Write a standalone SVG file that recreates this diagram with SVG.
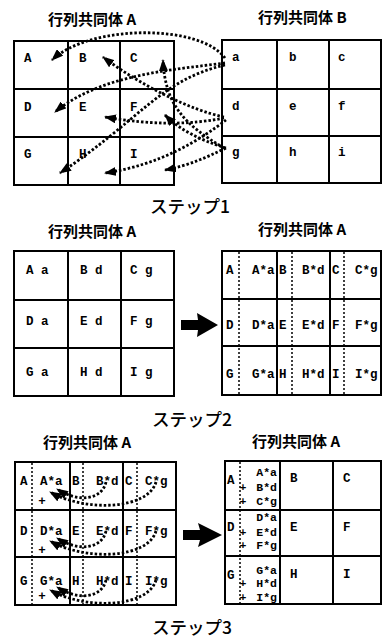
<svg xmlns="http://www.w3.org/2000/svg" width="382" height="638" viewBox="0 0 382 638">
<style>
.bg{fill:#fff}
.grid{fill:none;stroke:#000;stroke-width:2}
.ln{stroke:#000;stroke-width:2}
.dv{stroke:#000;stroke-width:1.5;stroke-dasharray:2 2}
.cv{fill:none;stroke:#000;stroke-width:2.8;stroke-dasharray:2.5 2}
.lb{font-family:"Liberation Mono","DejaVu Sans Mono",monospace;font-weight:bold;font-size:12.5px;fill:#000}
.sm{font-family:"Liberation Mono","DejaVu Sans Mono",monospace;font-weight:bold;font-size:11.5px;fill:#000}
.tt{font-family:"Noto Sans CJK JP","Noto Sans CJK SC",sans-serif;font-weight:bold;font-size:15px;fill:#000}
.st{font-family:"Noto Sans CJK JP","Noto Sans CJK SC",sans-serif;font-weight:500;font-size:17.5px;fill:#000}
.big{fill:#000}
</style>
<defs>
<marker id="ah" markerUnits="userSpaceOnUse" viewBox="0 0 12 9" refX="11" refY="4.5" markerWidth="12" markerHeight="9" orient="auto">
<path d="M0,0 L12,4.5 L0,9 z" fill="#000"/>
</marker>
</defs>
<rect class="bg" x="0" y="0" width="382" height="638"/>

<!-- Step 1 -->
<g id="title1A"><text class="tt" x="48" y="25">行列共同体 A</text></g>
<g id="title1B"><text class="tt" x="258" y="23">行列共同体 B</text></g>
<g id="gridA1">
<rect class="grid" x="14" y="41" width="160" height="144"/>
<line class="ln" x1="68" y1="41" x2="68" y2="185"/>
<line class="ln" x1="120" y1="41" x2="120" y2="185"/>
<line class="ln" x1="14" y1="89" x2="174" y2="89"/>
<line class="ln" x1="14" y1="137" x2="174" y2="137"/>
<text class="lb" x="24" y="62">A</text><text class="lb" x="79" y="62">B</text><text class="lb" x="130" y="62">C</text>
<text class="lb" x="24" y="111">D</text><text class="lb" x="79" y="111">E</text><text class="lb" x="130" y="111">F</text>
<text class="lb" x="24" y="158">G</text><text class="lb" x="79" y="158">H</text><text class="lb" x="130" y="158">I</text>
</g>
<g id="gridB1">
<rect class="grid" x="222" y="40" width="159" height="143"/>
<line class="ln" x1="277" y1="40" x2="277" y2="183"/>
<line class="ln" x1="329" y1="40" x2="329" y2="183"/>
<line class="ln" x1="222" y1="89" x2="381" y2="89"/>
<line class="ln" x1="222" y1="136" x2="381" y2="136"/>
<text class="lb" x="232" y="61">a</text><text class="lb" x="289" y="61">b</text><text class="lb" x="338" y="61">c</text>
<text class="lb" x="232" y="110">d</text><text class="lb" x="289" y="110">e</text><text class="lb" x="338" y="110">f</text>
<text class="lb" x="232" y="156">g</text><text class="lb" x="289" y="156">h</text><text class="lb" x="338" y="156">i</text>
</g>
<g id="connectors1">
<path class="cv" marker-end="url(#ah)" d="M225,58 C200,24 90,24 52,60"/>
<path class="cv" marker-end="url(#ah)" d="M225,63 C170,70 100,75 55,112"/>
<path class="cv" marker-end="url(#ah)" d="M225,65 C160,80 140,120 60,173"/>
<path class="cv" marker-end="url(#ah)" d="M224,117 C190,110 140,85 103,57"/>
<path class="cv" marker-end="url(#ah)" d="M224,118 C190,125 150,125 105,117"/>
<path class="cv" marker-end="url(#ah)" d="M226,120 C200,140 160,165 105,173"/>
<path class="cv" marker-end="url(#ah)" d="M224,148 C185,125 165,105 163,60"/>
<path class="cv" marker-end="url(#ah)" d="M226,148 C200,140 180,130 165,115"/>
<path class="cv" marker-end="url(#ah)" d="M226,148 C205,158 190,165 165,170"/>
</g>
<g id="step1"><text class="st" x="150" y="213">ステップ1</text></g>

<!-- Step 2 -->
<g id="title2A"><text class="tt" x="48" y="237">行列共同体 A</text></g>
<g id="title2R"><text class="tt" x="258" y="235">行列共同体 A</text></g>
<g id="gridA2">
<rect class="grid" x="14" y="251" width="160" height="145"/>
<line class="ln" x1="68" y1="251" x2="68" y2="396"/>
<line class="ln" x1="121" y1="251" x2="121" y2="396"/>
<line class="ln" x1="14" y1="300" x2="174" y2="300"/>
<line class="ln" x1="14" y1="348" x2="174" y2="348"/>
<text class="lb" x="26" y="274" xml:space="preserve">A a</text><text class="lb" x="80" y="274" xml:space="preserve">B d</text><text class="lb" x="130" y="274" xml:space="preserve">C g</text>
<text class="lb" x="26" y="325" xml:space="preserve">D a</text><text class="lb" x="80" y="325" xml:space="preserve">E d</text><text class="lb" x="130" y="325" xml:space="preserve">F g</text>
<text class="lb" x="26" y="376" xml:space="preserve">G a</text><text class="lb" x="80" y="376" xml:space="preserve">H d</text><text class="lb" x="130" y="376" xml:space="preserve">I g</text>
</g>
<g id="arrow2"><path class="big" d="M181,320 L198,320 L197,313 L218,325 L197,337 L198,330 L181,330 z"/></g>
<g id="gridR2">
<rect class="grid" x="222" y="251" width="159" height="144"/>
<line class="ln" x1="277" y1="251" x2="277" y2="395"/>
<line class="ln" x1="330" y1="251" x2="330" y2="395"/>
<line class="ln" x1="222" y1="299" x2="381" y2="299"/>
<line class="ln" x1="222" y1="346" x2="381" y2="346"/>
<line class="dv" x1="239" y1="252" x2="239" y2="394"/>
<line class="dv" x1="292" y1="252" x2="292" y2="394"/>
<line class="dv" x1="344" y1="252" x2="344" y2="394"/>
<text class="lb" x="226" y="274">A</text><text class="lb" x="252" y="274">A*a</text>
<text class="lb" x="279" y="274">B</text><text class="lb" x="302" y="274">B*d</text>
<text class="lb" x="332" y="274">C</text><text class="lb" x="355" y="274">C*g</text>
<text class="lb" x="226" y="329">D</text><text class="lb" x="252" y="329">D*a</text>
<text class="lb" x="279" y="329">E</text><text class="lb" x="302" y="329">E*d</text>
<text class="lb" x="332" y="329">F</text><text class="lb" x="355" y="329">F*g</text>
<text class="lb" x="226" y="378">G</text><text class="lb" x="252" y="378">G*a</text>
<text class="lb" x="279" y="378">H</text><text class="lb" x="302" y="378">H*d</text>
<text class="lb" x="332" y="378">I</text><text class="lb" x="355" y="378">I*g</text>
</g>
<g id="step2"><text class="st" x="152" y="426">ステップ2</text></g>

<!-- Step 3 -->
<g id="title3A"><text class="tt" x="43" y="448">行列共同体 A</text></g>
<g id="title3R"><text class="tt" x="252" y="447">行列共同体 A</text></g>
<g id="gridA3">
<rect class="grid" x="15" y="462" width="161" height="143"/>
<line class="ln" x1="70" y1="462" x2="70" y2="605"/>
<line class="ln" x1="123" y1="462" x2="123" y2="605"/>
<line class="ln" x1="15" y1="510" x2="176" y2="510"/>
<line class="ln" x1="15" y1="557" x2="176" y2="557"/>
<line class="dv" x1="32" y1="463" x2="32" y2="604"/>
<line class="dv" x1="83" y1="463" x2="83" y2="604"/>
<line class="dv" x1="137" y1="463" x2="137" y2="604"/>
<text class="lb" x="20" y="485">A</text><text class="lb" x="40" y="485">A*a</text>
<text class="lb" x="72" y="485">B</text><text class="lb" x="96" y="485">B*d</text>
<text class="lb" x="125" y="485">C</text><text class="lb" x="145" y="485">C*g</text>
<text class="lb" x="20" y="535">D</text><text class="lb" x="40" y="535">D*a</text>
<text class="lb" x="72" y="535">E</text><text class="lb" x="96" y="535">E*d</text>
<text class="lb" x="125" y="535">F</text><text class="lb" x="145" y="535">F*g</text>
<text class="lb" x="20" y="585">G</text><text class="lb" x="40" y="585">G*a</text>
<text class="lb" x="72" y="585">H</text><text class="lb" x="96" y="585">H*d</text>
<text class="lb" x="125" y="585">I</text><text class="lb" x="145" y="585">I*g</text>
<text class="lb" x="42" y="505" text-anchor="middle" font-size="15">+</text>
<text class="lb" x="42" y="554" text-anchor="middle" font-size="15">+</text>
<text class="lb" x="42" y="600" text-anchor="middle" font-size="15">+</text>
</g>
<g id="connectors3">
<path class="cv" marker-end="url(#ah)" d="M106,482 C102,500 78,503 57,489"/>
<path class="cv" marker-end="url(#ah)" d="M156,482 C148,510 85,512 50,492"/>
<path class="cv" marker-end="url(#ah)" d="M106,531 C102,549 78,552 57,538"/>
<path class="cv" marker-end="url(#ah)" d="M156,531 C148,559 85,561 50,541"/>
<path class="cv" marker-end="url(#ah)" d="M106,580 C102,598 78,601 57,587"/>
<path class="cv" marker-end="url(#ah)" d="M156,580 C148,608 85,610 50,590"/>
</g>
<g id="arrow3"><path class="big" d="M183,530 L200,530 L198,523 L222,535 L198,547 L200,540 L183,540 z"/></g>
<g id="gridR3">
<rect class="grid" x="225" y="461" width="156" height="143"/>
<line class="ln" x1="280" y1="461" x2="280" y2="604"/>
<line class="ln" x1="333" y1="461" x2="333" y2="604"/>
<line class="ln" x1="225" y1="510" x2="381" y2="510"/>
<line class="ln" x1="225" y1="556" x2="381" y2="556"/>
<line class="dv" x1="240" y1="462" x2="240" y2="603"/>
<text class="lb" x="227" y="484">A</text>
<text class="sm" x="277" y="476" text-anchor="end">A*a</text>
<text class="sm" x="243" y="491" text-anchor="middle">+</text><text class="sm" x="277" y="491" text-anchor="end">B*d</text>
<text class="sm" x="243" y="505" text-anchor="middle">+</text><text class="sm" x="277" y="505" text-anchor="end">C*g</text>
<text class="lb" x="290" y="482">B</text><text class="lb" x="343" y="482">C</text>
<text class="lb" x="227" y="531">D</text>
<text class="sm" x="277" y="521" text-anchor="end">D*a</text>
<text class="sm" x="243" y="536" text-anchor="middle">+</text><text class="sm" x="277" y="536" text-anchor="end">E*d</text>
<text class="sm" x="243" y="549" text-anchor="middle">+</text><text class="sm" x="277" y="549" text-anchor="end">F*g</text>
<text class="lb" x="290" y="531">E</text><text class="lb" x="343" y="531">F</text>
<text class="lb" x="227" y="579">G</text>
<text class="sm" x="277" y="574" text-anchor="end">G*a</text>
<text class="sm" x="243" y="587" text-anchor="middle">+</text><text class="sm" x="277" y="587" text-anchor="end">H*d</text>
<text class="sm" x="243" y="601" text-anchor="middle">+</text><text class="sm" x="277" y="601" text-anchor="end">I*g</text>
<text class="lb" x="290" y="578">H</text><text class="lb" x="343" y="578">I</text>
</g>
<g id="step3"><text class="st" x="152" y="634">ステップ3</text></g>
</svg>
